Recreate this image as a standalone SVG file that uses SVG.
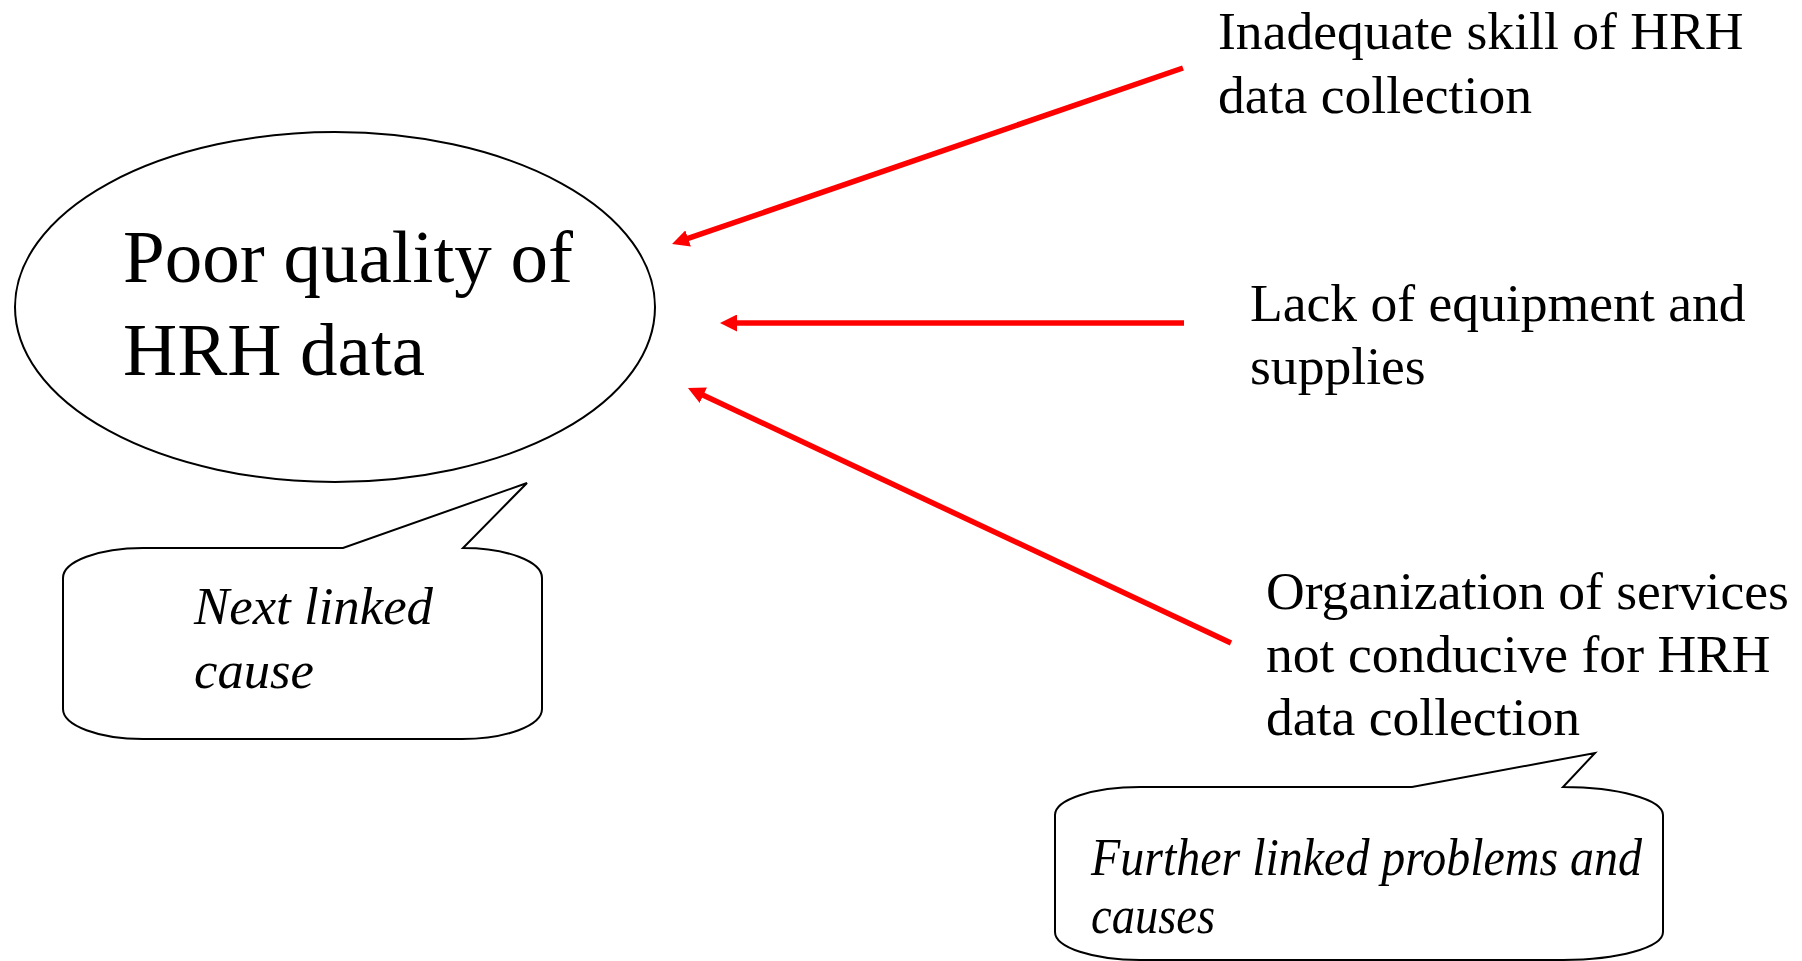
<svg xmlns="http://www.w3.org/2000/svg" width="1802" height="961" viewBox="0 0 1802 961">
<style>
.shape{fill:#fff;stroke:#000;stroke-width:2}
.t{font-family:"Liberation Serif","Times New Roman",serif;fill:#000}
.big{font-size:75px}
.mid{font-size:53.6px}
.it{font-size:53px;font-style:italic}
.arr{stroke:#ff0000;stroke-width:5.5;fill:none;marker-end:url(#ah)}
</style>
<defs>
<marker id="ah" markerUnits="userSpaceOnUse" markerWidth="17" markerHeight="17" refX="7" refY="8.5" orient="auto" viewBox="0 0 17 17">
<path d="M0,0 L17,8.5 L0,17 Z" fill="#ff0000"/>
</marker>
</defs>
<rect width="1802" height="961" fill="#fff"/>
<g id="problem">
<ellipse class="shape" cx="335" cy="307" rx="320" ry="175"/>
<text class="t big" x="123" y="282">Poor quality of</text>
<text class="t big" x="123" y="375">HRH data</text>
</g>
<g id="callout-next">
<path class="shape" d="M63,578 A80,30 0 0 1 143,548 L343,548 L527,483 L463,548 A79,30 0 0 1 542,578 L542,709 A80,30 0 0 1 462,739 L143,739 A80,30 0 0 1 63,709 Z"/>
<text class="t it" x="194" y="624" textLength="239" lengthAdjust="spacingAndGlyphs">Next linked</text>
<text class="t it" x="194" y="688" textLength="120" lengthAdjust="spacingAndGlyphs">cause</text>
</g>
<g id="cause-skill">
<text class="t mid" x="1218" y="49">Inadequate skill of HRH</text>
<text class="t mid" x="1218" y="113">data collection</text>
</g>
<g id="cause-equipment">
<text class="t mid" x="1250" y="321">Lack of equipment and</text>
<text class="t mid" x="1250" y="384">supplies</text>
</g>
<g id="cause-organization">
<text class="t mid" x="1266" y="609">Organization of services</text>
<text class="t mid" x="1266" y="672">not conducive for HRH</text>
<text class="t mid" x="1266" y="735">data collection</text>
</g>
<g id="callout-further">
<path class="shape" d="M1055,815 A85,28 0 0 1 1140,787 L1412,787 L1595,753 L1563,787 A100,28 0 0 1 1663,815 L1663,932 A100,28 0 0 1 1563,960 L1140,960 A85,28 0 0 1 1055,932 Z"/>
<text class="t it" x="1091" y="875" textLength="551" lengthAdjust="spacingAndGlyphs">Further linked problems and</text>
<text class="t it" x="1091" y="933" textLength="124" lengthAdjust="spacingAndGlyphs">causes</text>
</g>
<g id="connectors">
<line class="arr" x1="1183" y1="68" x2="681.5" y2="240.7"/>
<line class="arr" x1="1184" y1="323" x2="730" y2="323"/>
<line class="arr" x1="1231" y1="643" x2="697" y2="392.3"/>
</g>
</svg>
